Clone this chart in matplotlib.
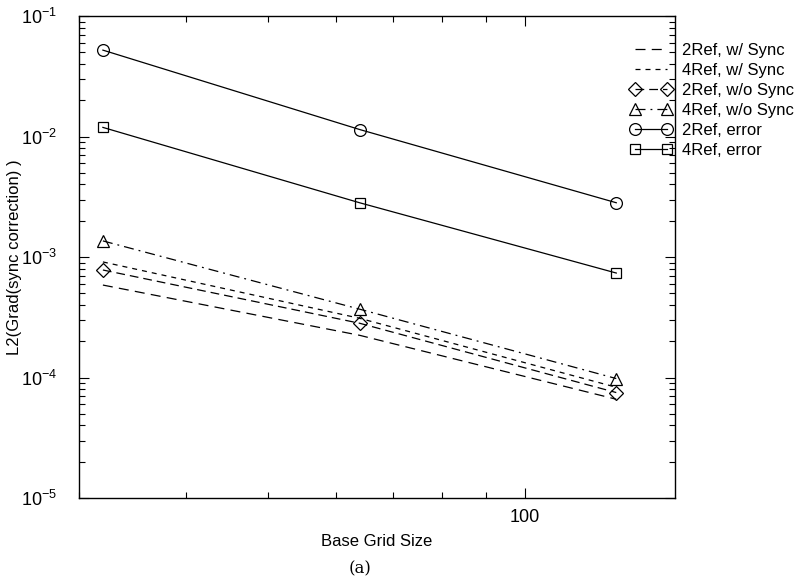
import matplotlib
matplotlib.use("Agg")
import matplotlib.pyplot as plt
from matplotlib.ticker import LogLocator, NullFormatter, FixedLocator, FixedFormatter

# data
grid = [32, 64, 128]
ref2_sync = [5.85e-4, 2.24e-4, 6.6e-5]
ref4_sync = [9.1e-4, 3.1e-4, 8.3e-5]
ref2_nosync = [7.8e-4, 2.82e-4, 7.5e-5]
ref4_nosync = [1.36e-3, 3.69e-4, 9.8e-5]
ref2_error = [5.21e-2, 1.143e-2, 2.82e-3]
ref4_error = [1.19e-2, 2.82e-3, 7.36e-4]

plt.rcParams['font.family'] = ['Liberation Sans', 'DejaVu Sans']
fs = 12

fig = plt.figure(figsize=(8.04, 5.82), dpi=100)
ax = fig.add_axes([79 / 804, 1 - 498 / 582, (675 - 79) / 804, (498 - 16) / 582])

lw = 0.9
ms = 8.5
ax.plot(grid, ref2_sync, color='k', lw=lw, dashes=(8, 5), label='2Ref, w/ Sync')
ax.plot(grid, ref4_sync, color='k', lw=lw, dashes=(4, 4), label='4Ref, w/ Sync')
ax.plot(grid, ref2_nosync, color='k', lw=lw, dashes=(7, 4), marker='D', ms=ms * 0.8,
        mfc='none', mec='k', mew=lw, label='2Ref, w/o Sync')
ax.plot(grid, ref4_nosync, color='k', lw=lw, dashes=(8, 4, 1.5, 4), marker='^', ms=ms,
        mfc='none', mec='k', mew=lw, label='4Ref, w/o Sync')
ax.plot(grid, ref2_error, color='k', lw=lw, ls='-', marker='o', ms=ms,
        mfc='none', mec='k', mew=lw, label='2Ref, error')
ax.plot(grid, ref4_error, color='k', lw=lw, ls='-', marker='s', ms=ms * 0.8,
        mfc='none', mec='k', mew=lw, label='4Ref, error')

ax.set_xscale('log')
ax.set_yscale('log')
ax.set_xlim(30, 150)
ax.set_ylim(1e-5, 1e-1)

ax.xaxis.set_major_locator(FixedLocator([100]))
ax.xaxis.set_major_formatter(FixedFormatter(['100']))
ax.xaxis.set_minor_locator(LogLocator(base=10, subs=range(2, 10)))
ax.xaxis.set_minor_formatter(NullFormatter())
ax.yaxis.set_major_locator(LogLocator(base=10, numticks=10))
ax.yaxis.set_minor_locator(LogLocator(base=10, subs=range(2, 10), numticks=10))
ax.yaxis.set_minor_formatter(NullFormatter())

ax.tick_params(which='both', direction='in', top=True, right=True, labelsize=fs + 1)
ax.tick_params(which='major', length=7, width=0.8)
ax.tick_params(which='minor', length=4, width=0.8)
ax.tick_params(axis='y', pad=16)
ax.tick_params(axis='x', pad=8)
for s in ax.spines.values():
    s.set_linewidth(1.0)

ax.set_xlabel('Base Grid Size', fontsize=fs, labelpad=6)
ax.set_ylabel('L2(Grad(sync correction) )', fontsize=fs)
ax.yaxis.set_label_coords(-57 / 596, 0.5)

fig.legend(loc='upper left', bbox_to_anchor=(630 / 804, 1 - 43 / 582), frameon=False,
           fontsize=fs, numpoints=2, handlelength=2.5, handletextpad=0.6,
           labelspacing=0.3, borderpad=0, borderaxespad=0)

fig.text(360 / 804, 1 - 569 / 582, '(a)', family=['DejaVu Serif'], fontsize=fs,
         ha='center', va='center')

fig.savefig('out.png', dpi=100)
